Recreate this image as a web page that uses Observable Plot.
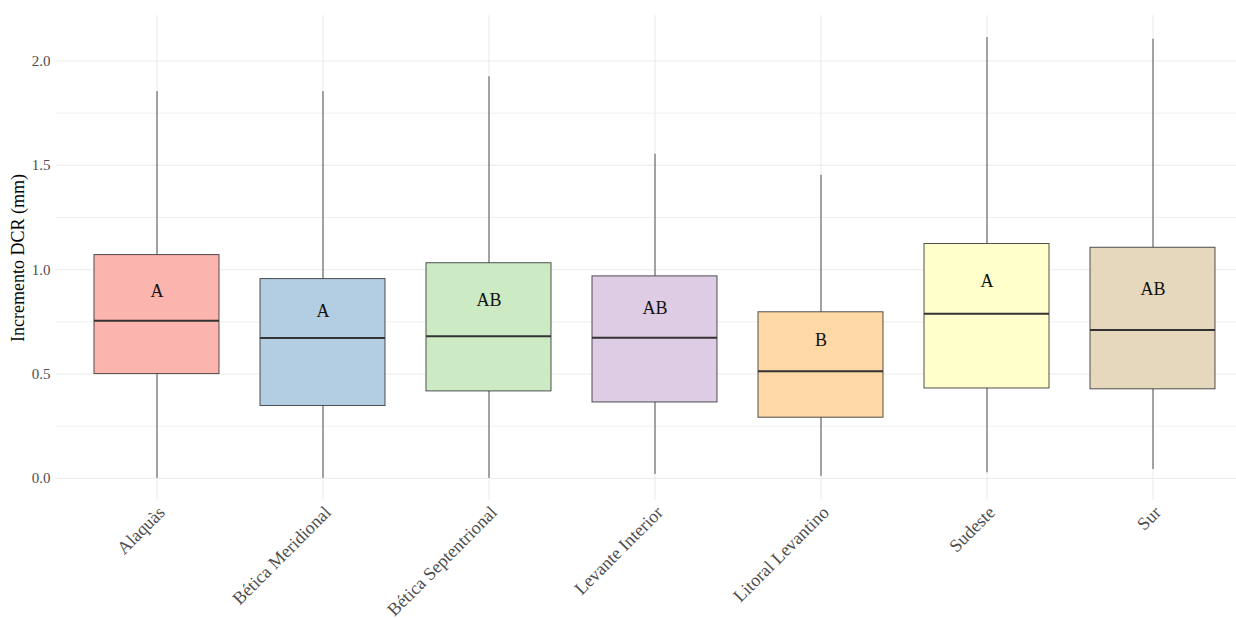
<!DOCTYPE html>
<html>
<head>
<meta charset="utf-8">
<script src="https://cdn.jsdelivr.net/npm/d3@7"></script>
<script src="https://cdn.jsdelivr.net/npm/@observablehq/plot@0.6"></script>
<style>
  html, body { margin: 0; padding: 0; background: #ffffff; overflow: hidden; }
  #chart { width: 1236px; height: 619px; }
  #chart svg, #chart svg text, #chart svg g { font-family: "Liberation Serif", "DejaVu Serif", serif !important; }
</style>
</head>
<body>
<div id="chart"></div>
<script>
// Categories (regions)
const regions = ["Alaquàs", "Bética Meridional", "Bética Septentrional", "Levante Interior", "Litoral Levantino", "Sudeste", "Sur"];
// Box-plot statistics (mm)
const lowerWhisker = [0.000, 0.000, 0.000, 0.019, 0.010, 0.027, 0.043];
const q1           = [0.500, 0.347, 0.417, 0.364, 0.291, 0.431, 0.427];
const median       = [0.756, 0.673, 0.681, 0.674, 0.514, 0.789, 0.711];
const q3           = [1.070, 0.955, 1.031, 0.968, 0.796, 1.123, 1.105];
const upperWhisker = [1.853, 1.853, 1.924, 1.553, 1.452, 2.112, 2.104];
// Significance letters and their vertical value
const letters      = ["A", "A", "AB", "AB", "B", "A", "AB"];
const letterY      = [0.898, 0.802, 0.855, 0.813, 0.663, 0.946, 0.906];
// Y axis ticks
const yTicks = [0, 0.5, 1.0, 1.5, 2.0];
const yMinorTicks = [0.25, 0.75, 1.25, 1.75];
// Palette (Pastel1)
const palette = ["#FBB4AE", "#B3CDE3", "#CCEBC5", "#DECBE4", "#FED9A6", "#FFFFCC", "#E5D8BD"];

const data = regions.map((r, i) => ({
  region: r, lo: lowerWhisker[i], q1: q1[i], med: median[i], q3: q3[i], hi: upperWhisker[i],
  letter: letters[i], ly: letterY[i]
}));

const dMin = d3.min(lowerWhisker), dMax = d3.max(upperWhisker);
const pad = (dMax - dMin) * 0.05;

const font = "Liberation Serif";
const W = 1236, H = 619;

const chart = Plot.plot({
  width: W,
  height: H,
  marginLeft: 56,
  marginRight: 0,
  marginTop: 15,
  marginBottom: 119,
  style: { fontFamily: font, background: "#ffffff", overflow: "visible" },
  x: { domain: regions, range: [56, 1252], paddingInner: 0.25, paddingOuter: 0.225, axis: null },
  y: { domain: [dMin - pad, dMax + pad], axis: null },
  color: { domain: regions, range: palette },
  marks: [
    // grid
    Plot.ruleY(yMinorTicks, { stroke: "#ebebeb", strokeWidth: 0.8 }),
    Plot.ruleY(yTicks, { stroke: "#ebebeb", strokeWidth: 1.1 }),
    Plot.ruleX(regions, { x: d => d, stroke: "#ebebeb", strokeWidth: 1.1 }),
    // whiskers
    Plot.ruleX(data, { x: "region", y1: "q3", y2: "hi", stroke: "#333333", strokeWidth: 1, strokeOpacity: 0.85 }),
    Plot.ruleX(data, { x: "region", y1: "lo", y2: "q1", stroke: "#333333", strokeWidth: 1, strokeOpacity: 0.85 }),
    // boxes
    Plot.barY(data, { x: "region", y1: "q1", y2: "q3", fill: "region", stroke: "#333333", strokeWidth: 1, strokeOpacity: 0.85 }),
    // median
    Plot.tickY(data, { x: "region", y: "med", stroke: "#333333", strokeWidth: 2 }),
    // letters
    Plot.text(data, { x: "region", y: "ly", text: "letter", fontSize: 18, fill: "#111111", fontFamily: font }),
    // axes
    Plot.axisY({ ticks: yTicks, tickFormat: d3.format(".1f"), tickSize: 0, tickPadding: 6, fontSize: 15, fill: "#4d4d4d", label: null, fontFamily: font }),
    Plot.axisX({ ticks: regions, tickSize: 0, tickRotate: -45, textAnchor: "end", lineAnchor: "top", tickPadding: 4, fontSize: 18, fill: "#4d4d4d", label: null, fontFamily: font }),
    // y title
    Plot.text(["Incremento DCR (mm)"], { frameAnchor: "left", dx: -38, rotate: -90, textAnchor: "middle", lineAnchor: "middle", text: d => d, fontSize: 18, fill: "#000000", fontFamily: font })
  ]
});

document.getElementById("chart").appendChild(chart);
</script>
</body>
</html>
